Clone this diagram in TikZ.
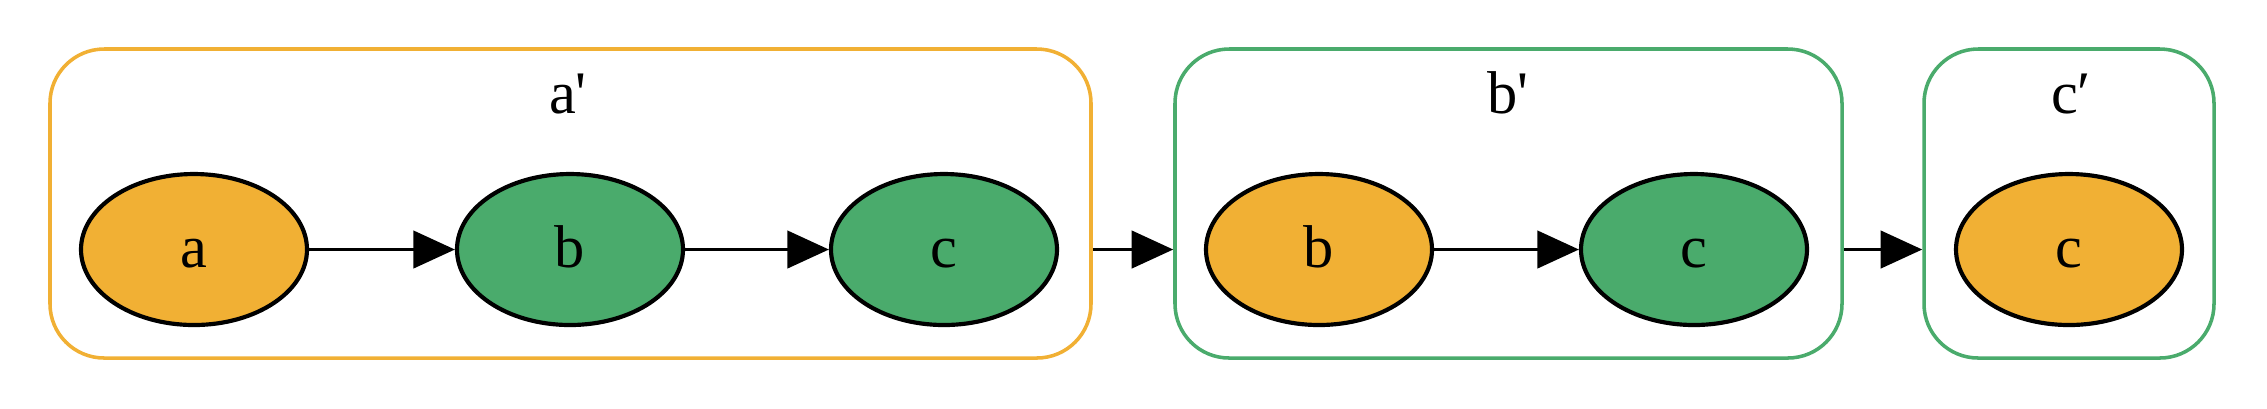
\documentclass[tikz,border=0pt]{standalone}
\usepackage{fontspec}
\setmainfont{Liberation Serif}
\usetikzlibrary{arrows.meta,shapes.geometric}
\definecolor{gvorange}{HTML}{F1B034}
\definecolor{gvgreen}{HTML}{4AAB6C}
\begin{document}
\begin{tikzpicture}[x=0.24pt,y=-0.24pt,
  vtx/.style={ellipse,draw=black,line width=1pt,minimum width=226*0.24pt,minimum height=151*0.24pt,
    inner sep=0pt,text height=8.6pt,text depth=0pt,font=\fontsize{14.5}{16}\selectfont},
  ovtx/.style={vtx,fill=gvorange},
  gvtx/.style={vtx,fill=gvgreen},
  clus/.style={rectangle,rounded corners=13pt,line width=0.85pt,minimum height=309*0.24pt,inner sep=0pt},
  clab/.style={anchor=base,inner sep=0pt,font=\fontsize{14.5}{16}\selectfont},
  edge/.style={line width=0.75pt,-{Triangle[length=10pt,width=9pt]}}]
\useasboundingbox (0,0) rectangle (2267,408);
% clusters
\node[clus,draw=gvorange,minimum width=1041*0.24pt] (A) at (570.5,203.5) {};
\node[clus,draw=gvgreen,minimum width=667*0.24pt] (B) at (1508.5,203.5) {};
\node[clus,draw=gvgreen,minimum width=290*0.24pt] (C) at (2069,203.5) {};
\node[clab] (Al) at (568,113) {a\textquotesingle};
\node[clab] (Bl) at (1508,113) {b\textquotesingle};
\node[clab] (Cl) at (2071,113) {c′};
% nodes
\node[ovtx] (a) at (194,249.5) {a};
\node[gvtx] (b) at (570,249.5) {b};
\node[gvtx] (c) at (944,249.5) {c};
\node[ovtx] (b2) at (1319,249.5) {b};
\node[gvtx] (c2) at (1694,249.5) {c};
\node[ovtx] (c3) at (2069,249.5) {c};
% edges
\draw[edge] (a) -- (b);
\draw[edge] (b) -- (c);
\draw[edge] (b2) -- (c2);
\draw[edge] (A.east |- c) -- (B.west |- c);
\draw[edge] (B.east |- c2) -- (C.west |- c2);
\end{tikzpicture}
\end{document}
